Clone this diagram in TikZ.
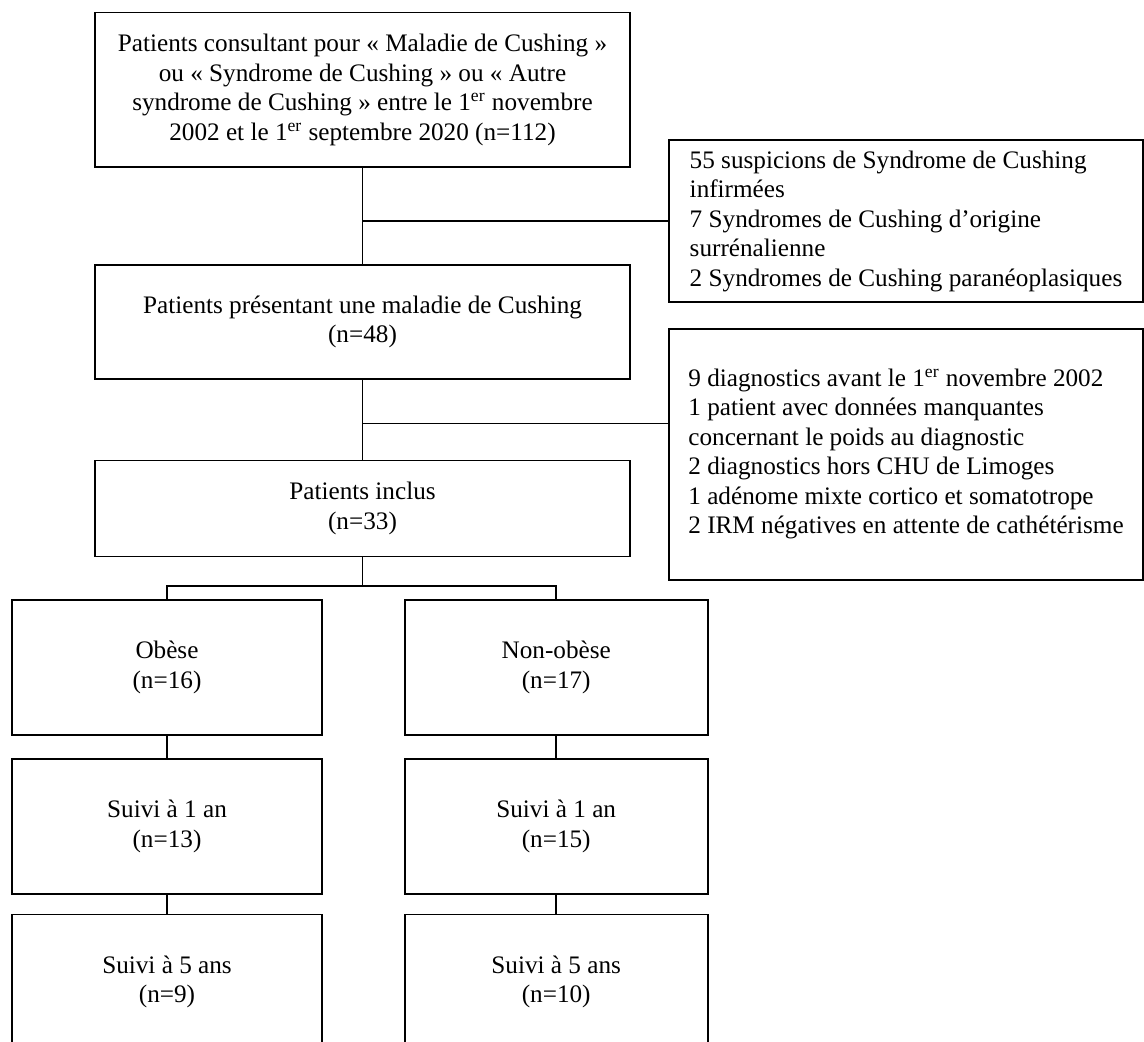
\documentclass[tikz,border=0pt]{standalone}
\usepackage{fontspec}
\setmainfont{Liberation Serif}
\usetikzlibrary{positioning, calc}

\begin{document}
\begin{tikzpicture}[
  node distance=40pt and 40.5pt,
  box/.style={rectangle, draw=black, line width=0.85pt, align=center, inner sep=0pt,
    font=\fontsize{12.6}{14.75}\selectfont},
  mainbox/.style={box, minimum width=267.5pt},
  excl/.style={box, align=left, minimum width=237pt},
  armbox/.style={box, minimum height=67.5pt},
  link/.style={line width=0.85pt, black}
]

  \useasboundingbox (0,0) rectangle (572pt,-521pt);
  \clip (0,0) rectangle (572pt,-521pt);

  \node[mainbox, minimum height=77.25pt] (desc) at (181.25pt,-44.875pt)
    {Patients consultant pour « Maladie de Cushing »\\ou « Syndrome de Cushing » ou « Autre\\syndrome de Cushing » entre le 1\textsuperscript{er} novembre\\2002 et le 1\textsuperscript{er} septembre 2020 (n=112)};
  \node[mainbox, minimum height=57pt, below=48pt of desc] (cushing) {Patients présentant une maladie de Cushing\\(n=48)};
  \node[mainbox, minimum height=48pt, below=40pt of cushing] (included) {Patients inclus\\(n=33)};

  \node[excl, minimum height=81pt] (excl1) at (453pt,-110.5pt)
    {55 suspicions de Syndrome de Cushing\\infirmées\\7 Syndromes de Cushing d’origine\\surrénalienne\\2 Syndromes de Cushing paranéoplasiques};
  \node[excl, minimum height=125.5pt, below=12.5pt of excl1] (excl2)
    {9 diagnostics avant le 1\textsuperscript{er} novembre 2002\\1 patient avec données manquantes\\concernant le poids au diagnostic\\2 diagnostics hors CHU de Limoges\\1 adénome mixte cortico et somatotrope\\2 IRM négatives en attente de cathétérisme};

  \node[armbox, minimum width=155pt] (obese) at (83.5pt,-333.75pt) {Obèse\\(n=16)};
  \node[armbox, minimum width=151.5pt, right=of obese] (nonobese) {Non-obèse\\(n=17)};
  \node[armbox, minimum width=155pt, below=11pt of obese] (obese1) {Suivi à 1 an\\(n=13)};
  \node[armbox, minimum width=151.5pt, below=11pt of nonobese] (nonobese1) {Suivi à 1 an\\(n=15)};
  \node[armbox, minimum width=155pt, below=9.5pt of obese1] (obese5) {Suivi à 5 ans\\(n=9)};
  \node[armbox, minimum width=151.5pt, below=9.5pt of nonobese1] (nonobese5) {Suivi à 5 ans\\(n=10)};

  \coordinate (join1) at (desc.south |- excl1.west);
  \coordinate (join2) at ($(cushing.south)!0.55!(included.north)$);
  \coordinate (split) at ($(included.south)+(0,-14.5pt)$);

  \draw[link] (desc) -- (cushing);
  \draw[link] (join1) -- (excl1);
  \draw[link] (cushing) -- (included);
  \draw[link] (join2) -- (join2 -| excl2.west);
  \draw[link] (included) -- (split);
  \draw[link] (obese) |- (split) -| (nonobese);

  \draw[link] (obese) -- (obese1);
  \draw[link] (obese1) -- (obese5);
  \draw[link] (nonobese) -- (nonobese1);
  \draw[link] (nonobese1) -- (nonobese5);

\end{tikzpicture}
\end{document}
